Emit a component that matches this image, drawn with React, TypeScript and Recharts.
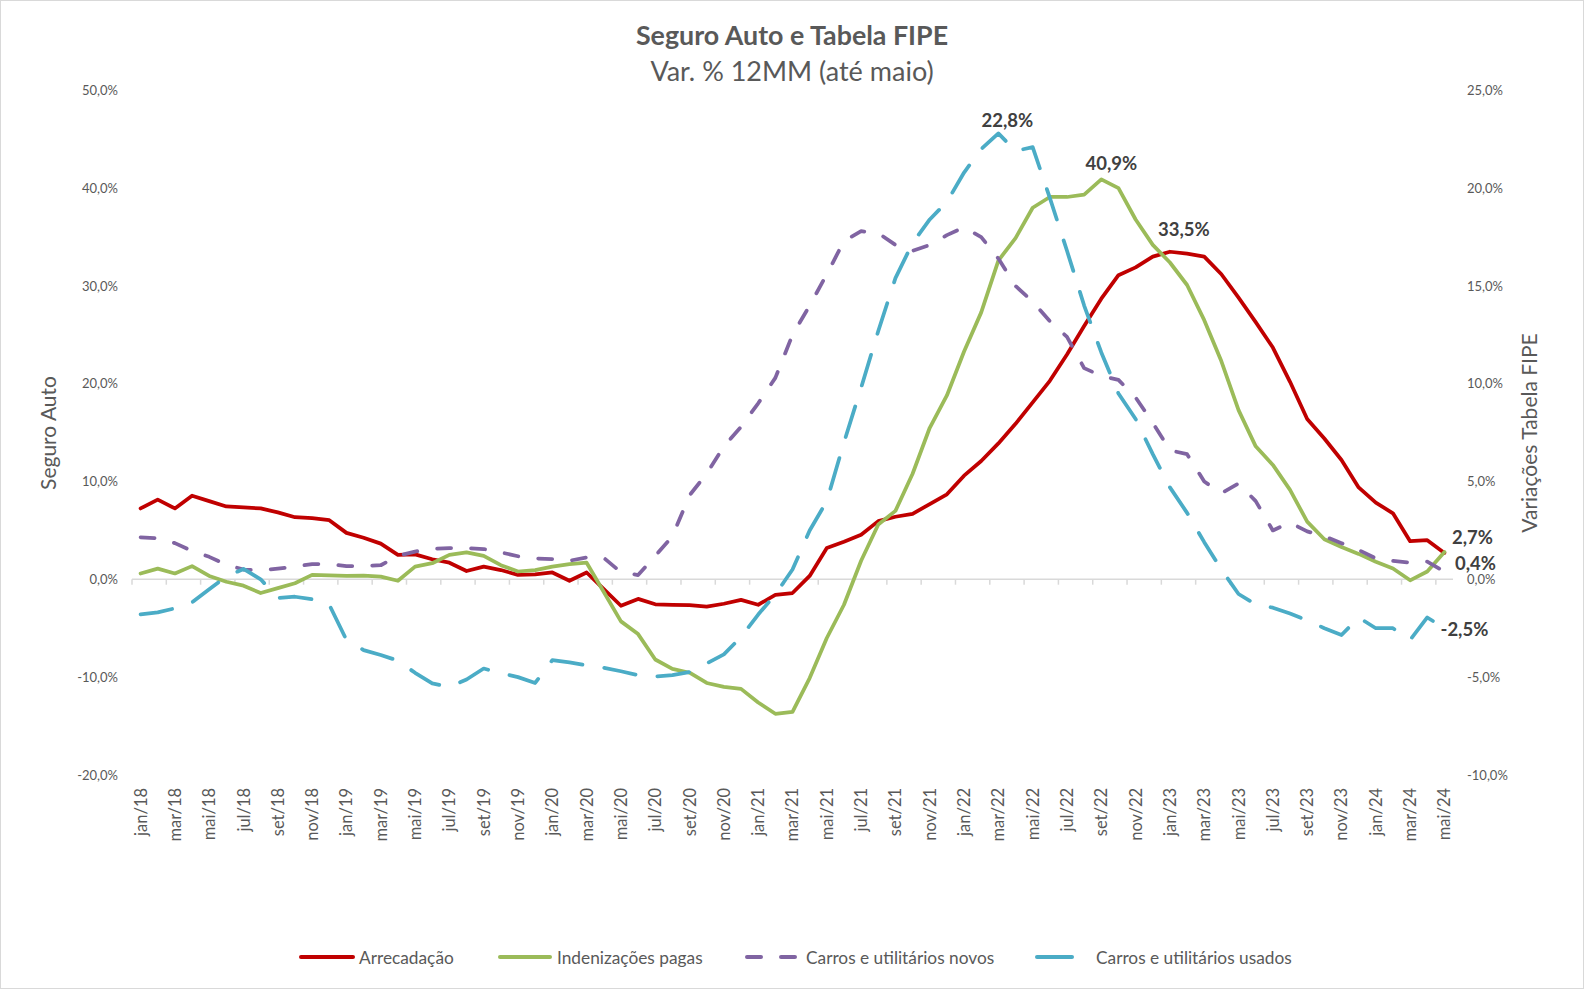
import { LineChart, Line, XAxis, YAxis, ReferenceLine, LabelList } from 'recharts';

// categorias mensais jan/18 .. mai/24
const MONTH_LABELS = [
  'jan/18', 'fev/18', 'mar/18', 'abr/18', 'mai/18', 'jun/18', 'jul/18', 'ago/18', 'set/18', 'out/18', 'nov/18', 'dez/18',
  'jan/19', 'fev/19', 'mar/19', 'abr/19', 'mai/19', 'jun/19', 'jul/19', 'ago/19', 'set/19', 'out/19', 'nov/19', 'dez/19',
  'jan/20', 'fev/20', 'mar/20', 'abr/20', 'mai/20', 'jun/20', 'jul/20', 'ago/20', 'set/20', 'out/20', 'nov/20', 'dez/20',
  'jan/21', 'fev/21', 'mar/21', 'abr/21', 'mai/21', 'jun/21', 'jul/21', 'ago/21', 'set/21', 'out/21', 'nov/21', 'dez/21',
  'jan/22', 'fev/22', 'mar/22', 'abr/22', 'mai/22', 'jun/22', 'jul/22', 'ago/22', 'set/22', 'out/22', 'nov/22', 'dez/22',
  'jan/23', 'fev/23', 'mar/23', 'abr/23', 'mai/23', 'jun/23', 'jul/23', 'ago/23', 'set/23', 'out/23', 'nov/23', 'dez/23',
  'jan/24', 'fev/24', 'mar/24', 'abr/24', 'mai/24',
];

// Seguro Auto (eixo esquerdo)
const ARRECADACAO = [
  7.25, 8.15, 7.25, 8.55, 8.0, 7.45, 7.35, 7.25, 6.85, 6.35, 6.25, 6.05,
  4.75, 4.25, 3.65, 2.5, 2.55, 2.05, 1.7, 0.85, 1.3, 0.95, 0.45, 0.5,
  0.7, -0.15, 0.7, -1.0, -2.7, -2.0, -2.55, -2.6, -2.65, -2.8, -2.5, -2.1,
  -2.6, -1.6, -1.4, 0.35, 3.2, 3.85, 4.55, 5.95, 6.4, 6.7, 7.7, 8.7,
  10.6, 12.1, 13.9, 15.9, 18.1, 20.3, 23.0, 25.9, 28.7, 31.1, 31.9, 33.0,
  33.5, 33.3, 33.0, 31.2, 28.8, 26.3, 23.7, 20.2, 16.4, 14.4, 12.2, 9.4,
  7.85, 6.75, 3.9, 4.0, 2.7,
];

const INDENIZACOES = [
  0.6, 1.1, 0.6, 1.35, 0.35, -0.25, -0.65, -1.4, -0.9, -0.4, 0.45, 0.4,
  0.35, 0.38, 0.28, -0.15, 1.3, 1.65, 2.5, 2.75, 2.4, 1.45, 0.8, 0.95,
  1.3, 1.55, 1.7, -1.3, -4.3, -5.6, -8.2, -9.15, -9.55, -10.6, -11.0, -11.2,
  -12.6, -13.75, -13.55, -10.1, -6.0, -2.6, 1.9, 5.6, 7.0, 10.8, 15.5, 18.8,
  23.3, 27.3, 32.6, 34.9, 38.0, 39.1, 39.1, 39.35, 40.9, 40.0, 36.8, 34.2,
  32.4, 30.1, 26.5, 22.3, 17.3, 13.6, 11.7, 9.15, 5.9, 4.1, 3.3, 2.6,
  1.8, 1.1, -0.1, 0.8, 2.8,
];

// Tabela FIPE (eixo direito)
const NOVOS = [
  2.15, 2.1, 1.85, 1.45, 1.15, 0.75, 0.5, 0.45, 0.55, 0.65, 0.78, 0.78,
  0.68, 0.68, 0.72, 1.2, 1.42, 1.55, 1.6, 1.6, 1.55, 1.38, 1.18, 1.07,
  1.03, 0.95, 1.12, 1.1, 0.36, 0.22, 1.2, 2.2, 4.3, 5.4, 6.8, 7.8,
  9.0, 10.3, 12.5, 14.0, 15.6, 17.3, 17.8, 17.7, 17.1, 16.8, 17.1, 17.6,
  18.0, 17.5, 16.4, 15.0, 14.2, 13.2, 12.4, 10.8, 10.4, 10.2, 9.3, 8.0,
  6.6, 6.4, 5.0, 4.4, 4.9, 4.0, 2.5, 2.9, 2.45, 2.2, 1.85, 1.5,
  1.07, 0.94, 0.85, 0.9, 0.4,
];

const USADOS = [
  -1.79, -1.69, -1.48, -1.18, -0.51, 0.15, 0.53, 0.0, -0.95, -0.89, -1.02, -1.3,
  -3.1, -3.62, -3.87, -4.16, -4.78, -5.32, -5.5, -5.12, -4.56, -4.8, -5.0, -5.3,
  -4.13, -4.25, -4.4, -4.52, -4.7, -4.9, -4.97, -4.9, -4.74, -4.3, -3.84, -2.95,
  -1.8, -0.77, 0.5, 2.5, 4.0, 7.0, 9.8, 12.7, 15.4, 17.2, 18.4, 19.3,
  20.8, 22.0, 22.8, 21.9, 22.1, 19.5, 16.8, 14.0, 11.6, 9.5, 8.2, 6.4,
  4.7, 3.4, 1.9, 0.5, -0.75, -1.28, -1.45, -1.75, -2.1, -2.5, -2.85, -1.95,
  -2.5, -2.5, -3.1, -1.95, -2.5,
];

const LEFT_TICKS = [-20, -10, 0, 10, 20, 30, 40, 50];
const RIGHT_TICKS = [-10, -5, 0, 5, 10, 15, 20, 25];
const X_TICKS = MONTH_LABELS.map((_, i) => i).filter((i) => i % 2 === 0);

// rótulos de dados: série, índice, deslocamento
const DATA_LABELS: { key: string; index: number; dx: number; dy: number }[] = [
  { key: 'usados', index: 50, dx: 9, dy: -13 },
  { key: 'indenizacoes', index: 56, dx: 10, dy: -16 },
  { key: 'arrecadacao', index: 60, dx: 14, dy: -23 },
  { key: 'arrecadacao', index: 76, dx: 28, dy: -16 },
  { key: 'novos', index: 76, dx: 31, dy: -9 },
  { key: 'usados', index: 76, dx: 20, dy: 1 },
];

const W = 1584;
const H = 989;
const FONT = 'Lato, "Open Sans", sans-serif';
const GRAY = '#595959';
const AXIS_GRAY = '#d9d9d9';

const COLORS = {
  arrecadacao: '#C00000',
  indenizacoes: '#9BBB59',
  novos: '#8064A2',
  usados: '#4BACC6',
};

const PLOT_LEFT = 132;
const PLOT_RIGHT = 1453;
const PLOT_TOP = 90.4;
const PLOT_BOTTOM = 774.9;
const X_AXIS_H = 120;

const data = MONTH_LABELS.map((label, idx) => ({
  idx,
  label,
  arrecadacao: ARRECADACAO[idx],
  indenizacoes: INDENIZACOES[idx],
  novos: NOVOS[idx],
  usados: USADOS[idx],
}));

const fmt = (v: number) => `${v.toFixed(1).replace('.', ',')}%`;

function MonthTick({ x, y, payload }: any) {
  return (
    <text
      x={x}
      y={y}
      transform={`rotate(-90, ${x}, ${y})`}
      textAnchor="end"
      dominantBaseline="central"
      fill={GRAY}
      fontSize={16.5}
      fontFamily={FONT}
    >
      {MONTH_LABELS[payload.value]}
    </text>
  );
}

const makeLabel = (key: string) => (props: any) => {
  const spec = DATA_LABELS.find((d) => d.key === key && d.index === props.index);
  if (!spec) return null;
  return (
    <text
      x={props.x + spec.dx}
      y={props.y + spec.dy}
      textAnchor="middle"
      dominantBaseline="central"
      fill="#404040"
      fontSize={18.5}
      fontWeight={700}
      fontFamily={FONT}
    >
      {fmt(Number(props.value))}
    </text>
  );
};

const LEGEND = [
  { name: 'Arrecadação', color: COLORS.arrecadacao, x1: 301, x2: 353, tx: 359, dash: undefined },
  { name: 'Indenizações pagas', color: COLORS.indenizacoes, x1: 500, x2: 550, tx: 557, dash: undefined },
  { name: 'Carros e utilitários novos', color: COLORS.novos, x1: 747, x2: 797, tx: 806, dash: '14 20' },
  { name: 'Carros e utilitários usados', color: COLORS.usados, x1: 1037, x2: 1072, tx: 1096, dash: undefined },
];

export default function App() {
  return (
    <div style={{ position: 'relative', width: W, height: H, background: '#fff', fontFamily: FONT }}>
      <style>{'body{margin:0}'}</style>

      <div style={{ position: 'absolute', top: 20, left: 0, width: W, textAlign: 'center', fontSize: 26.8, lineHeight: '30px', fontWeight: 700, color: GRAY }}>
        Seguro Auto e Tabela FIPE
      </div>
      <div style={{ position: 'absolute', top: 55, left: 0, width: W, textAlign: 'center', fontSize: 27, lineHeight: '32px', color: GRAY }}>
        Var. % 12MM (até maio)
      </div>

      <LineChart
        width={W}
        height={H}
        data={data}
        margin={{ top: PLOT_TOP, right: 0, bottom: H - PLOT_BOTTOM - X_AXIS_H, left: 0 }}
        style={{ position: 'absolute', top: 0, left: 0 }}
      >
        <XAxis
          dataKey="idx"
          type="number"
          domain={[-0.5, MONTH_LABELS.length - 0.5]}
          ticks={X_TICKS}
          interval={0}
          height={X_AXIS_H}
          axisLine={false}
          tickLine={false}
          tickSize={0}
          tickMargin={13}
          tick={<MonthTick />}
        />
        <YAxis
          yAxisId="left"
          domain={[-20, 50]}
          ticks={LEFT_TICKS}
          width={PLOT_LEFT}
          axisLine={false}
          tickLine={false}
          tickSize={0}
          tickMargin={14}
          tickFormatter={fmt}
          tick={{ fill: GRAY, fontSize: 13, fontFamily: FONT }}
        />
        <YAxis
          yAxisId="right"
          orientation="right"
          domain={[-10, 25]}
          ticks={RIGHT_TICKS}
          width={W - PLOT_RIGHT}
          axisLine={false}
          tickLine={false}
          tickSize={0}
          tickMargin={14}
          tickFormatter={fmt}
          tick={{ fill: GRAY, fontSize: 13, fontFamily: FONT, textAnchor: 'start' }}
        />

        <ReferenceLine yAxisId="left" y={0} stroke={AXIS_GRAY} strokeWidth={1.5} />
        {X_TICKS.map((k) => (
          <ReferenceLine
            key={`tk-${k}`}
            yAxisId="left"
            segment={[{ x: k - 0.5, y: 0 }, { x: k - 0.5, y: -0.55 }]}
            stroke={AXIS_GRAY}
            strokeWidth={1.5}
          />
        ))}

        <Line yAxisId="left" dataKey="arrecadacao" stroke={COLORS.arrecadacao} strokeWidth={3.75} dot={false} strokeLinejoin="round" strokeLinecap="round" isAnimationActive={false}>
          <LabelList dataKey="arrecadacao" content={makeLabel('arrecadacao')} />
        </Line>
        <Line yAxisId="left" dataKey="indenizacoes" stroke={COLORS.indenizacoes} strokeWidth={3.75} dot={false} strokeLinejoin="round" strokeLinecap="round" isAnimationActive={false}>
          <LabelList dataKey="indenizacoes" content={makeLabel('indenizacoes')} />
        </Line>
        <Line yAxisId="right" dataKey="novos" stroke={COLORS.novos} strokeWidth={3.75} strokeDasharray="14 20" dot={false} strokeLinejoin="round" strokeLinecap="round" isAnimationActive={false}>
          <LabelList dataKey="novos" content={makeLabel('novos')} />
        </Line>
        <Line yAxisId="right" dataKey="usados" stroke={COLORS.usados} strokeWidth={3.75} strokeDasharray="32 22" dot={false} strokeLinejoin="round" strokeLinecap="round" isAnimationActive={false}>
          <LabelList dataKey="usados" content={makeLabel('usados')} />
        </Line>
      </LineChart>

      {/* títulos dos eixos */}
      <div style={{ position: 'absolute', left: 46.5, top: 433, transform: 'translate(-50%, -50%) rotate(-90deg)', whiteSpace: 'nowrap', fontSize: 21, color: GRAY }}>
        Seguro Auto
      </div>
      <div style={{ position: 'absolute', left: 1528, top: 433, transform: 'translate(-50%, -50%) rotate(-90deg)', whiteSpace: 'nowrap', fontSize: 21, color: GRAY }}>
        Variações Tabela FIPE
      </div>

      {/* legenda */}
      <svg width={W} height={30} style={{ position: 'absolute', left: 0, top: 941.5 }}>
        {LEGEND.map((item) => (
          <g key={item.name}>
            <line x1={item.x1} x2={item.x2} y1={15} y2={15} stroke={item.color} strokeWidth={4} strokeLinecap="round" strokeDasharray={item.dash} />
            <text x={item.tx} y={15} dominantBaseline="central" fill={GRAY} fontSize={17.3} fontFamily={FONT}>
              {item.name}
            </text>
          </g>
        ))}
      </svg>

      <div style={{ position: 'absolute', inset: 0, border: `1px solid ${AXIS_GRAY}`, pointerEvents: 'none' }} />
    </div>
  );
}
